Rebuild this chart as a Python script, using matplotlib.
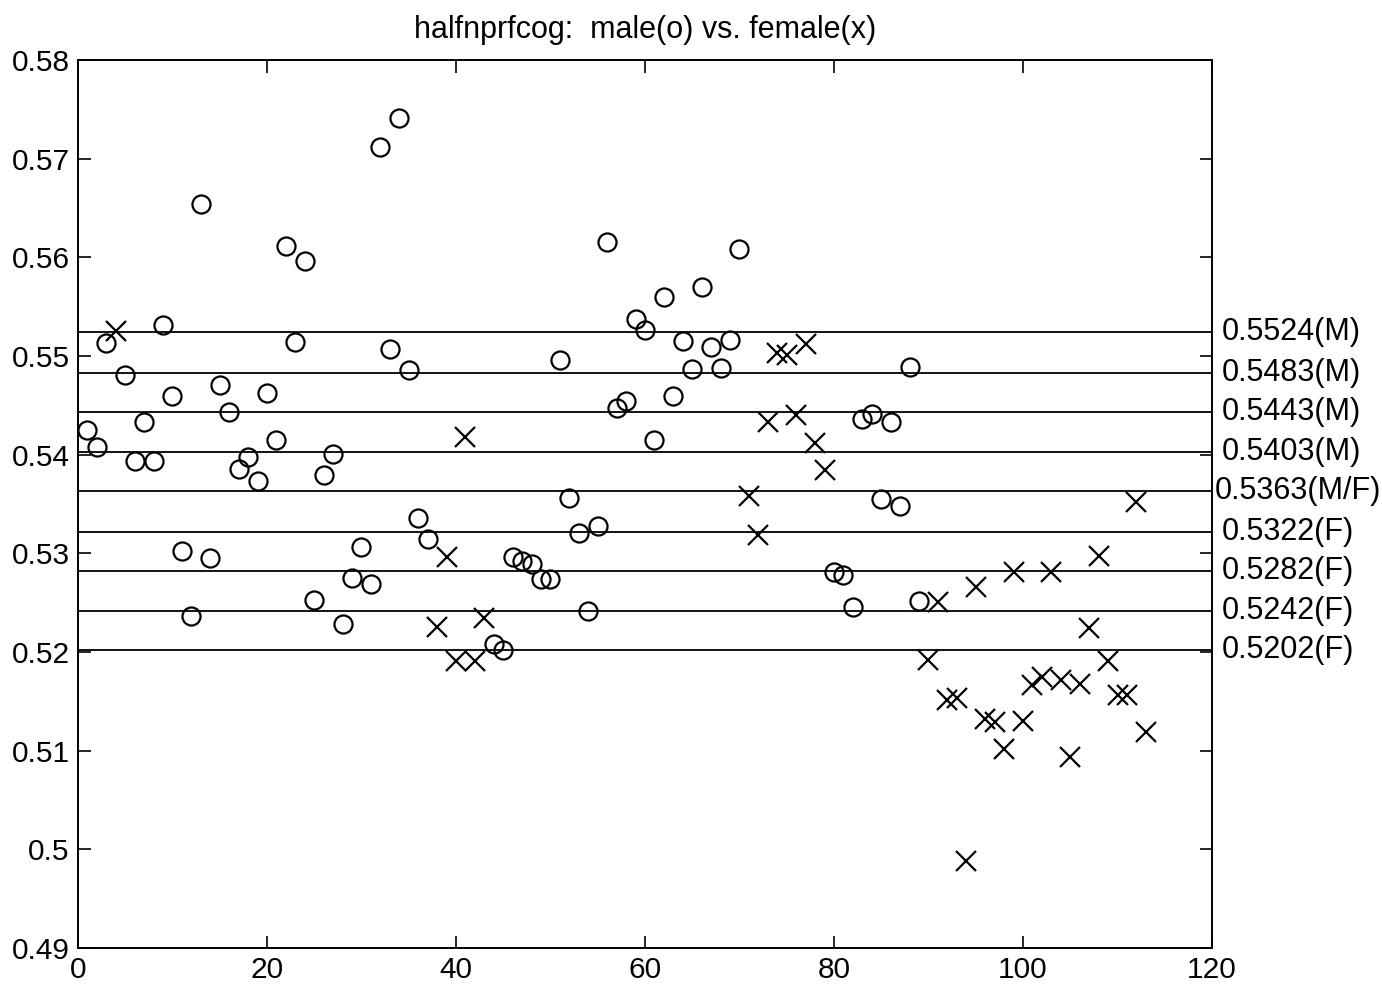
import matplotlib
matplotlib.use('Agg')
import matplotlib.pyplot as plt

plt.rcParams['font.family'] = ['Liberation Sans', 'DejaVu Sans']

# male subjects (o)
male_x = [1, 2, 3, 5, 6, 7, 8, 9, 10, 11, 12, 13, 14, 15, 16, 17, 18, 19, 20,
          21, 22, 23, 24, 25, 26, 27, 28, 29, 30, 31, 32, 33, 34, 35, 36, 37,
          44, 45, 46, 47, 48, 49, 50, 51, 52, 53, 54, 55, 56, 57, 58, 59, 60,
          61, 62, 63, 64, 65, 66, 67, 68, 69, 70,
          80, 81, 82, 83, 84, 85, 86, 87, 88, 89]
male_y = [0.5425, 0.5408, 0.5513, 0.5481, 0.5394, 0.5433, 0.5394, 0.5531,
          0.5459, 0.5302, 0.5236, 0.5654, 0.5295, 0.5471, 0.5443, 0.5385,
          0.5398, 0.5373, 0.5463, 0.5415, 0.5612, 0.5514, 0.5596, 0.5253,
          0.5379, 0.5401, 0.5228, 0.5275, 0.5306, 0.5269, 0.5712, 0.5507,
          0.5741, 0.5486, 0.5336, 0.5315,
          0.5208, 0.5202, 0.5296, 0.5292, 0.5289, 0.5274, 0.5274, 0.5496,
          0.5356, 0.5321, 0.5242, 0.5328, 0.5616, 0.5447, 0.5454, 0.5538,
          0.5526, 0.5415, 0.5560, 0.5459, 0.5515, 0.5487, 0.5570, 0.5509,
          0.5488, 0.5516, 0.5608,
          0.5281, 0.5278, 0.5246, 0.5436, 0.5441, 0.5355, 0.5433, 0.5348,
          0.5489, 0.5252]

# female subjects (x)
female_x = [4, 38, 39, 40, 41, 42, 43, 71, 72, 73, 74, 75, 76, 77, 78, 79,
            90, 91, 92, 93, 94, 95, 96, 97, 98, 99, 100, 101, 102, 103, 104,
            105, 106, 107, 108, 109, 110, 111, 112, 113]
female_y = [0.5525, 0.5225, 0.5296, 0.5191, 0.5418, 0.5191, 0.5234,
            0.5358, 0.5319, 0.5433, 0.5503, 0.5501, 0.5440, 0.5512, 0.5412,
            0.5384,
            0.5192, 0.5251, 0.5151, 0.5153, 0.4988, 0.5266, 0.5132, 0.5129,
            0.5102, 0.5281, 0.5130, 0.5167, 0.5175, 0.5281, 0.5172, 0.5094,
            0.5168, 0.5224, 0.5297, 0.5191, 0.5156, 0.5156, 0.5352, 0.5119]

# threshold levels
levels = [0.5524, 0.5483, 0.5443, 0.5403, 0.5363, 0.5322, 0.5282, 0.5242, 0.5202]
level_tags = ['M', 'M', 'M', 'M', 'M/F', 'F', 'F', 'F', 'F']

xticks = [0, 20, 40, 60, 80, 100, 120]
yticks = [0.49, 0.5, 0.51, 0.52, 0.53, 0.54, 0.55, 0.56, 0.57, 0.58]
ytick_labels = ['0.49', '0.5', '0.51', '0.52', '0.53', '0.54', '0.55',
                '0.56', '0.57', '0.58']

fig = plt.figure(figsize=(13.82, 9.94), dpi=100)
ax = fig.add_axes([0.0564, 0.0463, 0.8206, 0.8933])

ax.plot(male_x, male_y, 'o', ms=13, mfc='none', mec='black', mew=1.6)
ax.plot(female_x, female_y, 'x', ms=14, mec='black', mew=1.6)

for lv, tag in zip(levels, level_tags):
    ax.plot([0, 120], [lv, lv], color='black', lw=1.3)
    # the M/F label is longer, so it starts right at the frame
    xpos = 120.3 if tag == 'M/F' else 121
    ax.text(xpos, lv, f'{lv:.4f}({tag})', ha='left', va='center',
            fontsize=22, clip_on=False)

ax.set_xlim(0, 120)
ax.set_ylim(0.49, 0.58)
ax.set_xticks(xticks)
ax.set_yticks(yticks)
ax.set_yticklabels(ytick_labels)
ax.tick_params(direction='in', length=9, width=1.2, labelsize=21.5,
               top=True, right=True, pad=6)
for sp in ax.spines.values():
    sp.set_linewidth(1.4)

ax.set_title('halfnprfcog:  male(o) vs. female(x)', fontsize=22, pad=16)

fig.savefig('out.png', dpi=100, facecolor='white')
